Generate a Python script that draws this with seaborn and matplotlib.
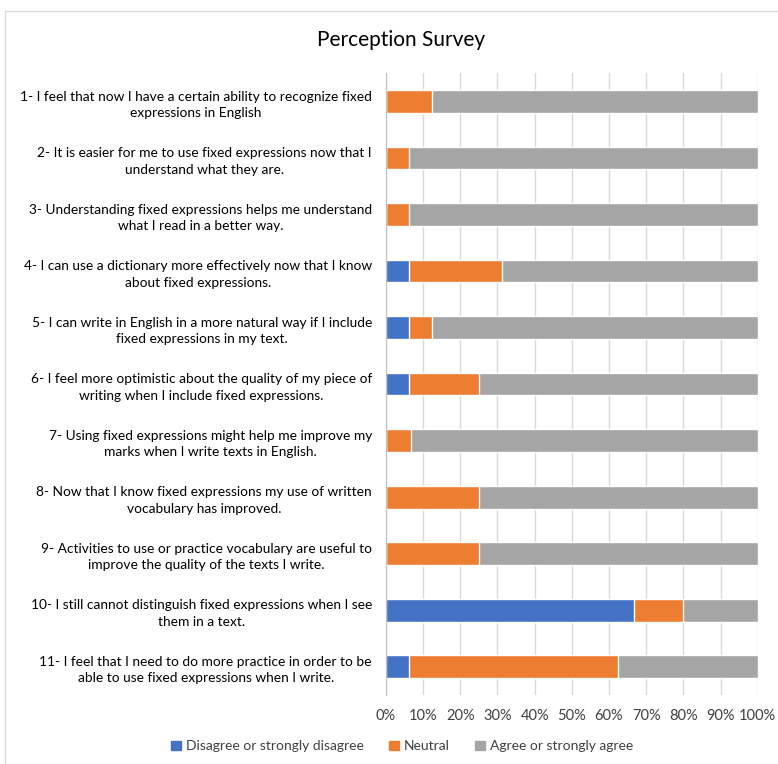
import pandas as pd
import matplotlib.pyplot as plt
import matplotlib.patches as mpatches
import seaborn as sns

# Survey items
items = [
    "1- I feel that now I have a certain ability to recognize fixed\nexpressions in English",
    "2- It is easier for me to use fixed expressions now that I\nunderstand what they are.",
    "3- Understanding fixed expressions helps me understand\nwhat I read in a better way.",
    "4- I can use a dictionary more effectively now that I know\nabout fixed expressions.",
    "5- I can write in English in a more natural way if I include\nfixed expressions in my text.",
    "6- I feel more optimistic about the quality of my piece of\nwriting when I include fixed expressions.",
    "7- Using fixed expressions might help me improve my\nmarks when I write texts in English.",
    "8- Now that I know fixed expressions my use of written\nvocabulary has improved.",
    "9- Activities to use or practice vocabulary are useful to\nimprove the quality of the texts I write.",
    "10- I still cannot distinguish fixed expressions when I see\nthem in a text.",
    "11- I feel that I need to do more practice in order to be\nable to use fixed expressions when I write.",
]

# Percentages per answer
disagree = [0, 0, 0, 6.25, 6.25, 6.25, 0, 0, 0, 66.67, 6.25]
neutral = [12.5, 6.25, 6.25, 25, 6.25, 18.75, 6.67, 25, 25, 13.33, 56.25]
agree = [87.5, 93.75, 93.75, 68.75, 87.5, 75, 93.33, 75, 75, 20, 37.5]

series = ["Disagree or strongly disagree", "Neutral", "Agree or strongly agree"]
colors = ["#4472C4", "#ED7D31", "#A5A5A5"]

df = pd.DataFrame({"item": items, "disagree": disagree,
                   "neutral": neutral, "agree": agree})
df["cum1"] = df["disagree"]
df["cum2"] = df["disagree"] + df["neutral"]
df["cum3"] = df["cum2"] + df["agree"]

sns.set_style("white")
plt.rcParams["font.family"] = ["Lato", "DejaVu Sans"]

fig = plt.figure(figsize=(7.78, 7.64), dpi=100)
ax = fig.add_axes([0.496, 0.0903, 0.478, 0.8137])

# stacked bars, drawn from the total down
sns.barplot(data=df, x="cum3", y="item", color=colors[2], width=0.4,
            saturation=1, ax=ax, zorder=3)
sns.barplot(data=df, x="cum2", y="item", color=colors[1], width=0.4,
            saturation=1, ax=ax, zorder=3)
sns.barplot(data=df, x="cum1", y="item", color=colors[0], width=0.4,
            saturation=1, ax=ax, zorder=3)

ax.set_xlim(0, 100)
ax.set_ylim(10.5, -0.5)
ax.set_xticks(range(0, 101, 10))
ax.set_xticklabels([f"{v}%" for v in range(0, 101, 10)], fontsize=10.5,
                   color="#404040")
ax.set_xlabel("")
ax.set_ylabel("")
ax.tick_params(axis="y", length=0, pad=10, labelsize=9.9)
ax.tick_params(axis="x", length=0, pad=10)
for t in ax.get_yticklabels():
    t.set_multialignment("center")
    t.set_linespacing(1.45)
    t.set_color("#000000")

ax.grid(axis="x", color="#D9D9D9", linewidth=1, zorder=0)
for s in ["top", "right", "bottom"]:
    ax.spines[s].set_visible(False)
ax.spines["left"].set_color("#BFBFBF")
ax.spines["left"].set_zorder(4)

fig.text(0.515, 0.948, "Perception Survey", ha="center", va="center",
         fontsize=15, color="#000000")

handles = [mpatches.Patch(color=c, label=s) for c, s in zip(colors, series)]
fig.legend(handles=handles, loc="center", bbox_to_anchor=(0.517, 0.023),
           ncol=3, frameon=False, fontsize=10, handlelength=0.7,
           handleheight=0.7, handletextpad=0.4, columnspacing=1.8,
           labelcolor="#404040")

# light chart border
fig.patches.append(mpatches.Rectangle((0.007, -0.01), 1.0, 0.995,
                                      transform=fig.transFigure,
                                      fill=False, edgecolor="#D9D9D9",
                                      linewidth=1))

plt.savefig("out.png", dpi=100)
